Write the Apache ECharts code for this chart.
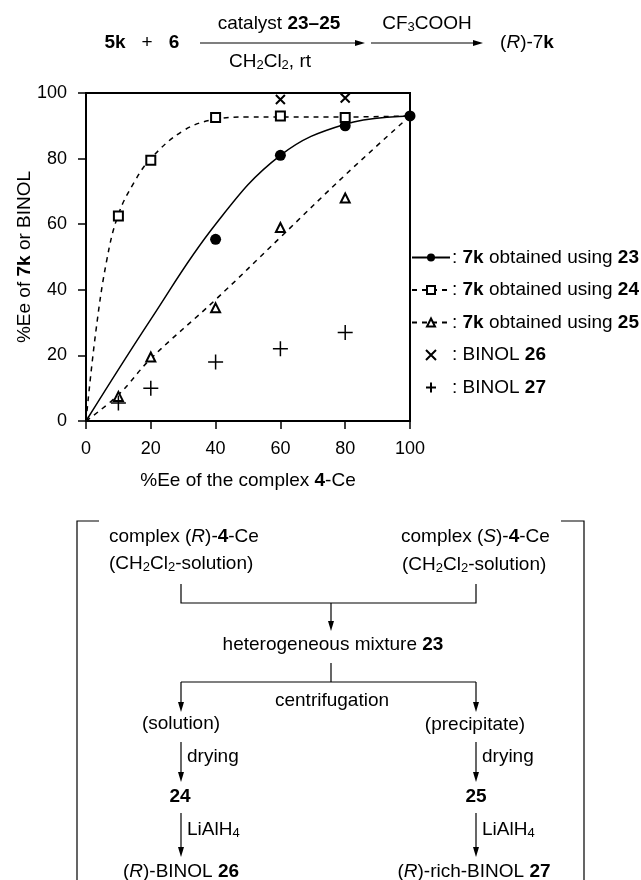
<!DOCTYPE html>
<html><head><meta charset="utf-8">
<style>html,body{margin:0;padding:0;background:#fff}#c{width:641px;height:880px}</style>
<script src="https://cdn.jsdelivr.net/npm/echarts@6/dist/echarts.min.js"></script>
</head><body><div id="c"></div>
<script>
const FONT = '"Liberation Sans", Arial, sans-serif';
const FS = 19;
const xTicks = [0, 20, 40, 60, 80, 100];
const yTicks = [0, 20, 40, 60, 80, 100];
const points23 = [[40,55.4],[60,81],[80,90],[100,93]];
const points24 = [[10,62.5],[20,79.5],[40,92.5],[60,93],[80,92.5]];
const points25 = [[10,7.5],[20,19.5],[40,34.5],[60,59],[80,68]];
const points26 = [[60,98],[80,98.5]];
const points27 = [[10,5.5],[20,10],[40,18],[60,22],[80,27]];
const curve23 = [[0,0],[20,31],[40,60],[60,81],[80,90.5],[100,93]];
const curve24 = [[0,0],[3,27],[6.4,49],[10,63],[15,73],[20,80],[30,88.5],[40,92],[50,92.7],[60,92.7],[80,92.7],[100,93]];
const curve25 = [[0,0],[10,8],[20,19],[40,37],[60,56],[80,75],[100,93]];
const names = ['7k obtained using 23','7k obtained using 24','7k obtained using 25','BINOL 26','BINOL 27'];
const legendText = [': {b|7k} obtained using {b|23}',': {b|7k} obtained using {b|24}',': {b|7k} obtained using {b|25}',': BINOL {b|26}',': BINOL {b|27}'];

const CROSS = 'path://M0 0L10 10M10 0L0 10';
const PLUS = 'path://M5 0L5 10M0 5L10 5';
const K = '#000';
const dash = [5, 5];

const richBase = {
  b:{fontWeight:'bold',fontSize:FS,fontFamily:FONT,fill:K},
  i:{fontStyle:'italic',fontSize:FS,fontFamily:FONT,fill:K},
  s:{fontSize:13,fontFamily:FONT,fill:K,verticalAlign:'bottom',lineHeight:14,padding:[8,0,0,0]},
  n:{fontSize:FS,fontFamily:FONT,fill:K}
};
const axisRich = {b:{fontWeight:'bold',fontSize:FS,fontFamily:FONT,color:K}};
function txt(t,x,y,align){
  return {type:'text',z:10,silent:true,style:{text:t,x:x,y:y,align:align||'center',verticalAlign:'middle',
    fontSize:FS,fontFamily:FONT,fill:K,rich:richBase}};
}
function poly(pts,w){
  return {type:'polyline',silent:true,shape:{points:pts},style:{stroke:K,lineWidth:w||1.2,fill:null}};
}
function arrowDown(x,y0,y1){
  return [poly([[x,y0],[x,y1-6]]),
    {type:'polygon',silent:true,shape:{points:[[x-3,y1-10],[x+3,y1-10],[x,y1]]},style:{fill:K}}];
}
function arrowRight(x0,x1,y){
  return [poly([[x0,y],[x1-6,y]]),
    {type:'polygon',silent:true,shape:{points:[[x1-10,y-3],[x1-10,y+3],[x1,y]]},style:{fill:K}}];
}
const graphics = [].concat(
  [txt('{b|5k}',115,43),txt('{n|+}',147,43),txt('{b|6}',174,43),
   txt('{n|catalyst }{b|23–25}',279,24),txt('{n|CF}{s|3}{n|COOH}',427,24),
   txt('{n|CH}{s|2}{n|Cl}{s|2}{n|, rt}',270,62),
   txt('{n|(}{i|R}{n|)-7}{b|k}',527,43)],
  arrowRight(200,365,43),arrowRight(371,483,43),
  [poly([[99,521],[77,521],[77,880]]),poly([[561,521],[584,521],[584,880]]),
   txt('{n|complex (}{i|R}{n|)-}{b|4}{n|-Ce}',109,537,'left'),
   txt('{n|(CH}{s|2}{n|Cl}{s|2}{n|-solution)}',109,564,'left'),
   txt('{n|complex (}{i|S}{n|)-}{b|4}{n|-Ce}',401,537,'left'),
   txt('{n|(CH}{s|2}{n|Cl}{s|2}{n|-solution)}',402,565,'left'),
   poly([[181,584],[181,603],[476,603],[476,584]]),
   txt('{n|heterogeneous mixture }{b|23}',333,645),
   poly([[331,663],[331,682]]),poly([[181,682],[476,682]]),
   txt('{n|centrifugation}',332,701),
   txt('{n|(solution)}',181,724),txt('{n|(precipitate)}',475,725),
   txt('{n|drying}',187,757,'left'),txt('{n|drying}',482,757,'left'),
   txt('{b|24}',180,797),txt('{b|25}',476,797),
   txt('{n|LiAlH}{s|4}',187,830,'left'),txt('{n|LiAlH}{s|4}',482,830,'left'),
   txt('{n|(}{i|R}{n|)-BINOL }{b|26}',181,872),txt('{n|(}{i|R}{n|)-rich-BINOL }{b|27}',474,872)],
  arrowDown(331,603,631),arrowDown(181,682,712),arrowDown(476,682,712),
  arrowDown(181,742,782),arrowDown(476,742,782),
  arrowDown(181,813,857),arrowDown(476,813,857)
);

const chart = echarts.init(document.getElementById('c'),null,{renderer:'canvas'});
const lineOf = (name,curve,type,sym,size,smooth) => ({
  name:name,type:'line',data:curve,smooth:smooth,showSymbol:false,symbol:sym,symbolSize:size,silent:true,
  lineStyle:{color:K,width:1.5,type:type},itemStyle:{color:sym==='circle'?K:'#fff',borderColor:K,borderWidth:sym==='circle'?0:1.5},
  z:2,animation:false
});
const markOf = (name,data,sym,size,fill,bw) => ({
  name:name,type:'scatter',data:data,symbol:sym,symbolSize:size,silent:true,animation:false,z:3,
  itemStyle:{color:fill,borderColor:K,borderWidth:bw,opacity:1}
});
chart.setOption({
  animation:false,
  textStyle:{fontFamily:FONT,color:K},
  grid:{left:86,right:231,top:93,height:328,show:true,borderColor:K,borderWidth:2,backgroundColor:'transparent',outerBoundsMode:'none'},
  xAxis:{type:'value',min:0,max:100,interval:20,splitLine:{show:false},
    axisLine:{onZero:false,lineStyle:{color:K,width:2}},axisTick:{length:8,lineStyle:{color:K,width:1.5}},
    axisLabel:{color:K,fontSize:FS-1,fontFamily:FONT,margin:19,customValues:xTicks},
    name:'%Ee of the complex {b|4}-Ce',nameLocation:'middle',nameGap:50,nameMoveOverlap:false,
    nameTextStyle:{color:K,fontSize:FS,fontFamily:FONT,rich:axisRich}},
  yAxis:{type:'value',min:0,max:100,interval:20,splitLine:{show:false},
    axisLine:{onZero:false,lineStyle:{color:K,width:2}},axisTick:{length:8,lineStyle:{color:K,width:1.5}},
    axisLabel:{color:K,fontSize:FS-1,fontFamily:FONT,margin:19,padding:[5,0,0,0],customValues:yTicks},
    name:'%Ee of {b|7k} or BINOL',nameLocation:'middle',nameGap:52,nameMoveOverlap:false,
    nameTextStyle:{color:K,fontSize:FS,fontFamily:FONT,rich:axisRich}},
  legend:{orient:'vertical',left:411,top:248,padding:0,itemWidth:38,itemHeight:10,itemGap:13.5,selectedMode:false,
    data:names,
    formatter:n=>legendText[names.indexOf(n)],
    textStyle:{color:K,fontSize:FS,fontFamily:FONT,padding:[0,0,0,-3],rich:axisRich}},
  series:[
    lineOf(names[0],curve23,'solid','circle',10,0.4),
    lineOf(names[1],curve24,dash,'rect',8,0.4),
    lineOf(names[2],curve25,dash,'triangle',8,0.4),
    markOf(names[0]+' points',points23,'circle',11,K,0),
    markOf(names[1]+' points',points24,'rect',9,'#fff',2),
    markOf(names[2]+' points',points25,'triangle',9,'#fff',2),
    markOf(names[3],points26,CROSS,9,'none',2),
    markOf(names[4],points27,PLUS,15,'none',1.5)
  ],
  graphic:graphics
});
</script></body></html>
